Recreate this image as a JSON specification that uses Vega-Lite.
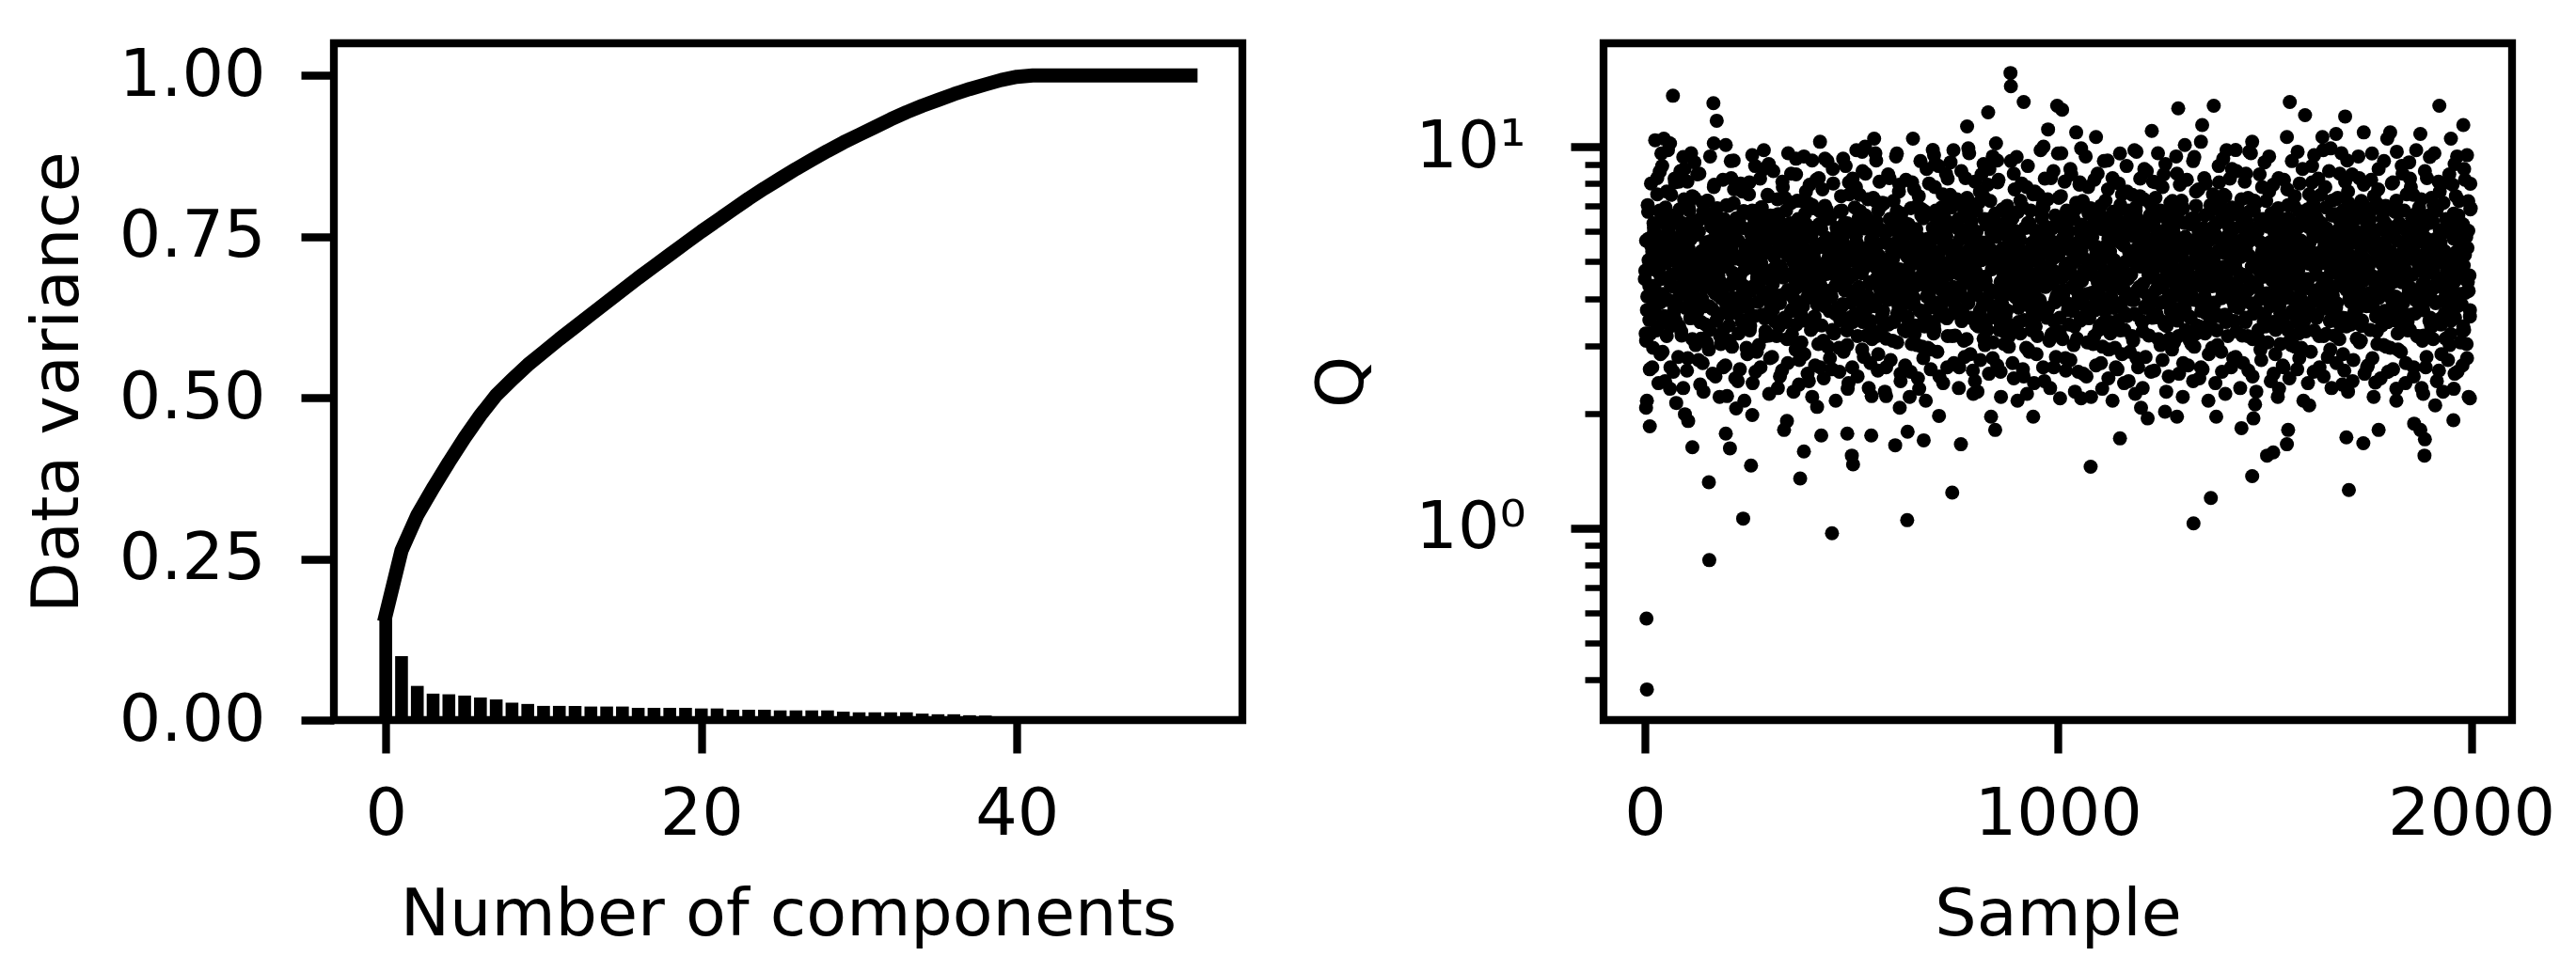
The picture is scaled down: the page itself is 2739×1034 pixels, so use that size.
{
"$schema":"https://vega.github.io/schema/vega-lite/v6.json",
"padding":{"left":21,"top":41,"right":20,"bottom":5},
"background":"white",
"spacing":61,
"config":{
"font":"DejaVu Sans",
"view":{"stroke":"black","strokeWidth":8.3},
"axis":{"domain":false,"grid":false,"tickColor":"black","tickWidth":8.3,"tickSize":35,"labelFont":"DejaVu Sans","labelFontSize":70,"labelColor":"black","titleFont":"DejaVu Sans","titleFontSize":70,"titleFontWeight":"normal","titleColor":"black","labelFlush":false,"labelOverlap":false}
},
"datasets":{
"bars":[{"n":0,"w":0.163},{"n":1,"w":0.099},{"n":2,"w":0.053},{"n":3,"w":0.041},{"n":4,"w":0.040},{"n":5,"w":0.038},{"n":6,"w":0.035},{"n":7,"w":0.032},{"n":8,"w":0.027},{"n":9,"w":0.025},{"n":10,"w":0.022},{"n":11,"w":0.022},{"n":12,"w":0.022},{"n":13,"w":0.021},{"n":14,"w":0.021},{"n":15,"w":0.021},{"n":16,"w":0.019},{"n":17,"w":0.019},{"n":18,"w":0.019},{"n":19,"w":0.019},{"n":20,"w":0.018},{"n":21,"w":0.018},{"n":22,"w":0.016},{"n":23,"w":0.016},{"n":24,"w":0.016},{"n":25,"w":0.015},{"n":26,"w":0.015},{"n":27,"w":0.015},{"n":28,"w":0.015},{"n":29,"w":0.013},{"n":30,"w":0.012},{"n":31,"w":0.012},{"n":32,"w":0.012},{"n":33,"w":0.012},{"n":34,"w":0.010},{"n":35,"w":0.009},{"n":36,"w":0.009},{"n":37,"w":0.0075},{"n":38,"w":0.007},{"n":39,"w":0.0005},{"n":40,"w":0},{"n":41,"w":0},{"n":42,"w":0},{"n":43,"w":0},{"n":44,"w":0},{"n":45,"w":0},{"n":46,"w":0},{"n":47,"w":0},{"n":48,"w":0},{"n":49,"w":0},{"n":50,"w":0},{"n":51,"w":0}],
"cum":[{"n":0,"v":0.163},{"n":1,"v":0.263},{"n":2,"v":0.318},{"n":3,"v":0.360},{"n":4,"v":0.400},{"n":5,"v":0.438},{"n":6,"v":0.473},{"n":7,"v":0.504},{"n":8,"v":0.528},{"n":9,"v":0.551},{"n":10,"v":0.571},{"n":11,"v":0.591},{"n":12,"v":0.610},{"n":13,"v":0.629},{"n":14,"v":0.648},{"n":15,"v":0.667},{"n":16,"v":0.686},{"n":17,"v":0.704},{"n":18,"v":0.722},{"n":19,"v":0.740},{"n":20,"v":0.758},{"n":21,"v":0.775},{"n":22,"v":0.792},{"n":23,"v":0.809},{"n":24,"v":0.825},{"n":25,"v":0.840},{"n":26,"v":0.855},{"n":27,"v":0.869},{"n":28,"v":0.883},{"n":29,"v":0.896},{"n":30,"v":0.908},{"n":31,"v":0.920},{"n":32,"v":0.932},{"n":33,"v":0.943},{"n":34,"v":0.953},{"n":35,"v":0.962},{"n":36,"v":0.971},{"n":37,"v":0.979},{"n":38,"v":0.986},{"n":39,"v":0.993},{"n":40,"v":0.998},{"n":41,"v":1.0},{"n":42,"v":1.0},{"n":43,"v":1.0},{"n":44,"v":1.0},{"n":45,"v":1.0},{"n":46,"v":1.0},{"n":47,"v":1.0},{"n":48,"v":1.0},{"n":49,"v":1.0},{"n":50,"v":1.0},{"n":51,"v":1.0}],
"qs":[
{"s":0,"q":4.50},{"s":2,"q":3.24},{"s":3,"q":5.67},{"s":5,"q":2.16},{"s":6,"q":4.05},{"s":8,"q":6.75},{"s":9,"q":5.04},{"s":11,"q":3.51},{"s":12,"q":2.61},{"s":14,"q":4.77},{"s":15,"q":8.01},{"s":17,"q":3.78},{"s":18,"q":5.31},{"s":20,"q":2.97},{"s":22,"q":6.12},{"s":23,"q":4.32},
{"s":25,"q":4.20},{"s":27,"q":5.90},{"s":28,"q":3.30},{"s":30,"q":7.50},{"s":31,"q":5.30},{"s":33,"q":2.40},{"s":34,"q":4.80},{"s":36,"q":6.80},{"s":37,"q":3.90},{"s":39,"q":5.60},{"s":40,"q":4.50},{"s":42,"q":8.90},{"s":43,"q":2.90},{"s":45,"q":5.00},{"s":47,"q":3.60},{"s":48,"q":6.30},
{"s":50,"q":6.93},{"s":52,"q":4.95},{"s":53,"q":3.19},{"s":55,"q":5.83},{"s":56,"q":9.79},{"s":58,"q":3.96},{"s":59,"q":6.16},{"s":61,"q":5.28},{"s":62,"q":2.64},{"s":64,"q":7.48},{"s":65,"q":4.62},{"s":67,"q":6.49},{"s":68,"q":5.50},{"s":70,"q":3.63},{"s":72,"q":8.25},{"s":73,"q":4.29},
{"s":75,"q":3.49},{"s":77,"q":6.60},{"s":78,"q":4.66},{"s":80,"q":5.43},{"s":81,"q":2.81},{"s":83,"q":5.72},{"s":84,"q":4.07},{"s":86,"q":8.63},{"s":87,"q":4.85},{"s":89,"q":3.20},{"s":90,"q":6.11},{"s":92,"q":4.37},{"s":93,"q":2.33},{"s":95,"q":7.28},{"s":97,"q":5.14},{"s":98,"q":3.78},
{"s":100,"q":6.05},{"s":102,"q":2.59},{"s":103,"q":8.10},{"s":105,"q":4.54},{"s":106,"q":5.40},{"s":108,"q":6.80},{"s":109,"q":3.89},{"s":111,"q":5.72},{"s":112,"q":9.61},{"s":114,"q":4.86},{"s":115,"q":3.13},{"s":117,"q":6.37},{"s":118,"q":4.21},{"s":120,"q":7.34},{"s":122,"q":5.18},{"s":123,"q":3.56},
{"s":125,"q":4.56},{"s":127,"q":8.46},{"s":128,"q":3.71},{"s":130,"q":2.76},{"s":131,"q":5.99},{"s":133,"q":4.75},{"s":134,"q":6.46},{"s":136,"q":3.14},{"s":137,"q":5.32},{"s":139,"q":3.99},{"s":140,"q":7.13},{"s":142,"q":2.28},{"s":143,"q":5.04},{"s":145,"q":4.28},{"s":147,"q":3.42},{"s":148,"q":5.61},
{"s":150,"q":3.07},{"s":152,"q":5.62},{"s":153,"q":7.21},{"s":155,"q":4.77},{"s":156,"q":3.82},{"s":158,"q":9.43},{"s":159,"q":5.30},{"s":161,"q":6.25},{"s":162,"q":4.45},{"s":164,"q":2.54},{"s":165,"q":6.68},{"s":167,"q":5.09},{"s":168,"q":7.95},{"s":170,"q":4.13},{"s":172,"q":5.94},{"s":173,"q":3.50},
{"s":175,"q":6.90},{"s":177,"q":3.59},{"s":178,"q":4.60},{"s":180,"q":5.43},{"s":181,"q":2.21},{"s":183,"q":4.42},{"s":184,"q":3.04},{"s":186,"q":5.80},{"s":187,"q":4.14},{"s":189,"q":8.19},{"s":190,"q":3.31},{"s":192,"q":4.88},{"s":193,"q":6.26},{"s":195,"q":2.67},{"s":197,"q":3.86},{"s":198,"q":5.15},
{"s":201,"q":4.94},{"s":202,"q":7.00},{"s":204,"q":3.40},{"s":205,"q":6.08},{"s":207,"q":4.33},{"s":208,"q":9.17},{"s":210,"q":5.46},{"s":211,"q":2.99},{"s":213,"q":4.02},{"s":214,"q":5.77},{"s":216,"q":7.73},{"s":217,"q":4.64},{"s":219,"q":2.47},{"s":221,"q":6.49},{"s":222,"q":3.71},{"s":224,"q":5.15},
{"s":226,"q":5.67},{"s":227,"q":3.24},{"s":229,"q":4.50},{"s":230,"q":2.61},{"s":232,"q":8.01},{"s":233,"q":4.05},{"s":235,"q":5.04},{"s":236,"q":3.51},{"s":238,"q":6.12},{"s":239,"q":4.32},{"s":241,"q":2.16},{"s":242,"q":4.77},{"s":244,"q":6.75},{"s":246,"q":2.97},{"s":247,"q":5.31},{"s":249,"q":3.78},
{"s":251,"q":3.90},{"s":252,"q":7.50},{"s":254,"q":3.30},{"s":255,"q":5.00},{"s":257,"q":5.90},{"s":258,"q":4.20},{"s":260,"q":6.80},{"s":261,"q":2.40},{"s":263,"q":4.80},{"s":264,"q":5.60},{"s":266,"q":3.60},{"s":267,"q":8.90},{"s":269,"q":5.30},{"s":271,"q":2.90},{"s":272,"q":4.50},{"s":274,"q":6.30},
{"s":276,"q":4.29},{"s":277,"q":5.83},{"s":279,"q":8.25},{"s":280,"q":2.64},{"s":282,"q":4.95},{"s":283,"q":6.93},{"s":285,"q":3.63},{"s":286,"q":5.50},{"s":288,"q":9.79},{"s":289,"q":4.62},{"s":291,"q":6.49},{"s":292,"q":3.19},{"s":294,"q":6.16},{"s":296,"q":5.28},{"s":297,"q":7.48},{"s":299,"q":3.96},
{"s":301,"q":3.20},{"s":302,"q":4.66},{"s":304,"q":6.60},{"s":305,"q":3.78},{"s":307,"q":5.72},{"s":308,"q":2.81},{"s":310,"q":4.37},{"s":311,"q":8.63},{"s":313,"q":5.14},{"s":314,"q":3.49},{"s":316,"q":6.11},{"s":317,"q":4.85},{"s":319,"q":4.07},{"s":321,"q":7.28},{"s":322,"q":2.33},{"s":324,"q":5.43},
{"s":326,"q":6.37},{"s":327,"q":3.89},{"s":329,"q":4.86},{"s":330,"q":5.72},{"s":332,"q":2.59},{"s":333,"q":8.10},{"s":335,"q":4.54},{"s":336,"q":6.05},{"s":338,"q":3.56},{"s":339,"q":7.34},{"s":341,"q":5.40},{"s":342,"q":6.80},{"s":344,"q":3.13},{"s":346,"q":4.21},{"s":347,"q":9.61},{"s":349,"q":5.18},
{"s":351,"q":3.14},{"s":352,"q":5.32},{"s":354,"q":3.71},{"s":355,"q":7.13},{"s":357,"q":4.56},{"s":358,"q":5.99},{"s":360,"q":2.28},{"s":361,"q":3.99},{"s":363,"q":5.61},{"s":364,"q":4.75},{"s":366,"q":8.46},{"s":367,"q":3.42},{"s":369,"q":4.28},{"s":371,"q":6.46},{"s":372,"q":5.04},{"s":374,"q":2.76},
{"s":376,"q":5.94},{"s":377,"q":4.45},{"s":379,"q":3.07},{"s":380,"q":7.21},{"s":382,"q":5.62},{"s":383,"q":3.82},{"s":385,"q":9.43},{"s":386,"q":4.77},{"s":388,"q":6.68},{"s":389,"q":3.50},{"s":391,"q":6.25},{"s":392,"q":5.09},{"s":394,"q":2.54},{"s":396,"q":5.30},{"s":397,"q":4.13},{"s":399,"q":7.95},
{"s":400,"q":4.60},{"s":402,"q":3.31},{"s":403,"q":5.80},{"s":405,"q":2.21},{"s":406,"q":4.14},{"s":408,"q":6.90},{"s":409,"q":5.15},{"s":411,"q":3.59},{"s":412,"q":2.67},{"s":414,"q":4.88},{"s":415,"q":8.19},{"s":417,"q":3.86},{"s":418,"q":5.43},{"s":420,"q":3.04},{"s":422,"q":6.26},{"s":423,"q":4.42},
{"s":425,"q":4.33},{"s":427,"q":6.08},{"s":428,"q":3.40},{"s":430,"q":7.73},{"s":431,"q":5.46},{"s":433,"q":2.47},{"s":434,"q":4.94},{"s":436,"q":7.00},{"s":437,"q":4.02},{"s":439,"q":5.77},{"s":440,"q":4.64},{"s":442,"q":9.17},{"s":443,"q":2.99},{"s":445,"q":5.15},{"s":447,"q":3.71},{"s":448,"q":6.49},
{"s":450,"q":5.67},{"s":452,"q":4.05},{"s":453,"q":2.61},{"s":455,"q":4.77},{"s":456,"q":8.01},{"s":458,"q":3.24},{"s":459,"q":5.04},{"s":461,"q":4.32},{"s":462,"q":2.16},{"s":464,"q":6.12},{"s":465,"q":3.78},{"s":467,"q":5.31},{"s":468,"q":4.50},{"s":470,"q":2.97},{"s":472,"q":6.75},{"s":473,"q":3.51},
{"s":475,"q":3.60},{"s":477,"q":6.80},{"s":478,"q":4.80},{"s":480,"q":5.60},{"s":481,"q":2.90},{"s":483,"q":5.90},{"s":484,"q":4.20},{"s":486,"q":8.90},{"s":487,"q":5.00},{"s":489,"q":3.30},{"s":490,"q":6.30},{"s":492,"q":4.50},{"s":493,"q":2.40},{"s":495,"q":7.50},{"s":497,"q":5.30},{"s":498,"q":3.90},
{"s":500,"q":6.16},{"s":502,"q":2.64},{"s":503,"q":8.25},{"s":505,"q":4.62},{"s":506,"q":5.50},{"s":508,"q":6.93},{"s":509,"q":3.96},{"s":511,"q":5.83},{"s":512,"q":9.79},{"s":514,"q":4.95},{"s":515,"q":3.19},{"s":517,"q":6.49},{"s":518,"q":4.29},{"s":520,"q":7.48},{"s":522,"q":5.28},{"s":523,"q":3.63},
{"s":525,"q":4.66},{"s":527,"q":8.63},{"s":528,"q":3.78},{"s":530,"q":2.81},{"s":531,"q":6.11},{"s":533,"q":4.85},{"s":534,"q":6.60},{"s":536,"q":3.20},{"s":537,"q":5.43},{"s":539,"q":4.07},{"s":540,"q":7.28},{"s":542,"q":2.33},{"s":543,"q":5.14},{"s":545,"q":4.37},{"s":547,"q":3.49},{"s":548,"q":5.72},
{"s":550,"q":3.13},{"s":552,"q":5.72},{"s":553,"q":7.34},{"s":555,"q":4.86},{"s":556,"q":3.89},{"s":558,"q":9.61},{"s":559,"q":5.40},{"s":561,"q":6.37},{"s":562,"q":4.54},{"s":564,"q":2.59},{"s":565,"q":6.80},{"s":567,"q":5.18},{"s":568,"q":8.10},{"s":570,"q":4.21},{"s":572,"q":6.05},{"s":573,"q":3.56},
{"s":575,"q":7.13},{"s":577,"q":3.71},{"s":578,"q":4.75},{"s":580,"q":5.61},{"s":581,"q":2.28},{"s":583,"q":4.56},{"s":584,"q":3.14},{"s":586,"q":5.99},{"s":587,"q":4.28},{"s":589,"q":8.46},{"s":590,"q":3.42},{"s":592,"q":5.04},{"s":593,"q":6.46},{"s":595,"q":2.76},{"s":597,"q":3.99},{"s":598,"q":5.32},
{"s":601,"q":5.09},{"s":602,"q":7.21},{"s":604,"q":3.50},{"s":605,"q":6.25},{"s":607,"q":4.45},{"s":608,"q":9.43},{"s":610,"q":5.62},{"s":611,"q":3.07},{"s":613,"q":4.13},{"s":614,"q":5.94},{"s":616,"q":7.95},{"s":617,"q":4.77},{"s":619,"q":2.54},{"s":621,"q":6.68},{"s":622,"q":3.82},{"s":624,"q":5.30},
{"s":626,"q":5.80},{"s":627,"q":3.31},{"s":629,"q":4.60},{"s":630,"q":2.67},{"s":632,"q":8.19},{"s":633,"q":4.14},{"s":635,"q":5.15},{"s":636,"q":3.59},{"s":638,"q":6.26},{"s":639,"q":4.42},{"s":641,"q":2.21},{"s":642,"q":4.88},{"s":644,"q":6.90},{"s":646,"q":3.04},{"s":647,"q":5.43},{"s":649,"q":3.86},
{"s":651,"q":4.02},{"s":652,"q":7.73},{"s":654,"q":3.40},{"s":655,"q":5.15},{"s":657,"q":6.08},{"s":658,"q":4.33},{"s":660,"q":7.00},{"s":661,"q":2.47},{"s":663,"q":4.94},{"s":664,"q":5.77},{"s":666,"q":3.71},{"s":667,"q":9.17},{"s":669,"q":5.46},{"s":671,"q":2.99},{"s":672,"q":4.64},{"s":674,"q":6.49},
{"s":676,"q":3.51},{"s":677,"q":4.77},{"s":679,"q":6.75},{"s":680,"q":2.16},{"s":682,"q":4.05},{"s":683,"q":5.67},{"s":685,"q":2.97},{"s":686,"q":4.50},{"s":688,"q":8.01},{"s":689,"q":3.78},{"s":691,"q":5.31},{"s":692,"q":2.61},{"s":694,"q":5.04},{"s":696,"q":4.32},{"s":697,"q":6.12},{"s":699,"q":3.24},
{"s":701,"q":3.30},{"s":702,"q":4.80},{"s":704,"q":6.80},{"s":705,"q":3.90},{"s":707,"q":5.90},{"s":708,"q":2.90},{"s":710,"q":4.50},{"s":711,"q":8.90},{"s":713,"q":5.30},{"s":714,"q":3.60},{"s":716,"q":6.30},{"s":717,"q":5.00},{"s":719,"q":4.20},{"s":721,"q":7.50},{"s":722,"q":2.40},{"s":724,"q":5.60},
{"s":726,"q":6.49},{"s":727,"q":3.96},{"s":729,"q":4.95},{"s":730,"q":5.83},{"s":732,"q":2.64},{"s":733,"q":8.25},{"s":735,"q":4.62},{"s":736,"q":6.16},{"s":738,"q":3.63},{"s":739,"q":7.48},{"s":741,"q":5.50},{"s":742,"q":6.93},{"s":744,"q":3.19},{"s":746,"q":4.29},{"s":747,"q":9.79},{"s":749,"q":5.28},
{"s":751,"q":3.20},{"s":752,"q":5.43},{"s":754,"q":3.78},{"s":755,"q":7.28},{"s":757,"q":4.66},{"s":758,"q":6.11},{"s":760,"q":2.33},{"s":761,"q":4.07},{"s":763,"q":5.72},{"s":764,"q":4.85},{"s":766,"q":8.63},{"s":767,"q":3.49},{"s":769,"q":4.37},{"s":771,"q":6.60},{"s":772,"q":5.14},{"s":774,"q":2.81},
{"s":776,"q":6.05},{"s":777,"q":4.54},{"s":779,"q":3.13},{"s":780,"q":7.34},{"s":782,"q":5.72},{"s":783,"q":3.89},{"s":785,"q":9.61},{"s":786,"q":4.86},{"s":788,"q":6.80},{"s":789,"q":3.56},{"s":791,"q":6.37},{"s":792,"q":5.18},{"s":794,"q":2.59},{"s":796,"q":5.40},{"s":797,"q":4.21},{"s":799,"q":8.10},
{"s":800,"q":4.75},{"s":802,"q":3.42},{"s":803,"q":5.99},{"s":805,"q":2.28},{"s":806,"q":4.28},{"s":808,"q":7.13},{"s":809,"q":5.32},{"s":811,"q":3.71},{"s":812,"q":2.76},{"s":814,"q":5.04},{"s":815,"q":8.46},{"s":817,"q":3.99},{"s":818,"q":5.61},{"s":820,"q":3.14},{"s":822,"q":6.46},{"s":823,"q":4.56},
{"s":825,"q":4.45},{"s":827,"q":6.25},{"s":828,"q":3.50},{"s":830,"q":7.95},{"s":831,"q":5.62},{"s":833,"q":2.54},{"s":834,"q":5.09},{"s":836,"q":7.21},{"s":837,"q":4.13},{"s":839,"q":5.94},{"s":840,"q":4.77},{"s":842,"q":9.43},{"s":843,"q":3.07},{"s":845,"q":5.30},{"s":847,"q":3.82},{"s":848,"q":6.68},
{"s":850,"q":5.80},{"s":852,"q":4.14},{"s":853,"q":2.67},{"s":855,"q":4.88},{"s":856,"q":8.19},{"s":858,"q":3.31},{"s":859,"q":5.15},{"s":861,"q":4.42},{"s":862,"q":2.21},{"s":864,"q":6.26},{"s":865,"q":3.86},{"s":867,"q":5.43},{"s":868,"q":4.60},{"s":870,"q":3.04},{"s":872,"q":6.90},{"s":873,"q":3.59},
{"s":875,"q":3.71},{"s":877,"q":7.00},{"s":878,"q":4.94},{"s":880,"q":5.77},{"s":881,"q":2.99},{"s":883,"q":6.08},{"s":884,"q":4.33},{"s":886,"q":9.17},{"s":887,"q":5.15},{"s":889,"q":3.40},{"s":890,"q":6.49},{"s":892,"q":4.64},{"s":893,"q":2.47},{"s":895,"q":7.73},{"s":897,"q":5.46},{"s":898,"q":4.02},
{"s":900,"q":5.04},{"s":902,"q":2.16},{"s":903,"q":6.75},{"s":905,"q":3.78},{"s":906,"q":4.50},{"s":908,"q":5.67},{"s":909,"q":3.24},{"s":911,"q":4.77},{"s":912,"q":8.01},{"s":914,"q":4.05},{"s":915,"q":2.61},{"s":917,"q":5.31},{"s":918,"q":3.51},{"s":920,"q":6.12},{"s":922,"q":4.32},{"s":923,"q":2.97},
{"s":925,"q":4.80},{"s":927,"q":8.90},{"s":928,"q":3.90},{"s":930,"q":2.90},{"s":931,"q":6.30},{"s":933,"q":5.00},{"s":934,"q":6.80},{"s":936,"q":3.30},{"s":937,"q":5.60},{"s":939,"q":4.20},{"s":940,"q":7.50},{"s":942,"q":2.40},{"s":943,"q":5.30},{"s":945,"q":4.50},{"s":947,"q":3.60},{"s":948,"q":5.90},
{"s":950,"q":3.19},{"s":952,"q":5.83},{"s":953,"q":7.48},{"s":955,"q":4.95},{"s":956,"q":3.96},{"s":958,"q":9.79},{"s":959,"q":5.50},{"s":961,"q":6.49},{"s":962,"q":4.62},{"s":964,"q":2.64},{"s":965,"q":6.93},{"s":967,"q":5.28},{"s":968,"q":8.25},{"s":970,"q":4.29},{"s":972,"q":6.16},{"s":973,"q":3.63},
{"s":975,"q":7.28},{"s":977,"q":3.78},{"s":978,"q":4.85},{"s":980,"q":5.72},{"s":981,"q":2.33},{"s":983,"q":4.66},{"s":984,"q":3.20},{"s":986,"q":6.11},{"s":987,"q":4.37},{"s":989,"q":8.63},{"s":990,"q":3.49},{"s":992,"q":5.14},{"s":993,"q":6.60},{"s":995,"q":2.81},{"s":997,"q":4.07},{"s":998,"q":5.43},
{"s":1001,"q":5.18},{"s":1002,"q":7.34},{"s":1004,"q":3.56},{"s":1005,"q":6.37},{"s":1007,"q":4.54},{"s":1008,"q":9.61},{"s":1010,"q":5.72},{"s":1011,"q":3.13},{"s":1013,"q":4.21},{"s":1014,"q":6.05},{"s":1016,"q":8.10},{"s":1017,"q":4.86},{"s":1019,"q":2.59},{"s":1021,"q":6.80},{"s":1022,"q":3.89},{"s":1024,"q":5.40},
{"s":1026,"q":5.99},{"s":1027,"q":3.42},{"s":1029,"q":4.75},{"s":1030,"q":2.76},{"s":1032,"q":8.46},{"s":1033,"q":4.28},{"s":1035,"q":5.32},{"s":1036,"q":3.71},{"s":1038,"q":6.46},{"s":1039,"q":4.56},{"s":1041,"q":2.28},{"s":1042,"q":5.04},{"s":1044,"q":7.13},{"s":1046,"q":3.14},{"s":1047,"q":5.61},{"s":1049,"q":3.99},
{"s":1051,"q":4.13},{"s":1052,"q":7.95},{"s":1054,"q":3.50},{"s":1055,"q":5.30},{"s":1057,"q":6.25},{"s":1058,"q":4.45},{"s":1060,"q":7.21},{"s":1061,"q":2.54},{"s":1063,"q":5.09},{"s":1064,"q":5.94},{"s":1066,"q":3.82},{"s":1067,"q":9.43},{"s":1069,"q":5.62},{"s":1071,"q":3.07},{"s":1072,"q":4.77},{"s":1074,"q":6.68},
{"s":1076,"q":3.59},{"s":1077,"q":4.88},{"s":1079,"q":6.90},{"s":1080,"q":2.21},{"s":1082,"q":4.14},{"s":1083,"q":5.80},{"s":1085,"q":3.04},{"s":1086,"q":4.60},{"s":1088,"q":8.19},{"s":1089,"q":3.86},{"s":1091,"q":5.43},{"s":1092,"q":2.67},{"s":1094,"q":5.15},{"s":1096,"q":4.42},{"s":1097,"q":6.26},{"s":1099,"q":3.31},
{"s":1101,"q":3.40},{"s":1102,"q":4.94},{"s":1104,"q":7.00},{"s":1105,"q":4.02},{"s":1107,"q":6.08},{"s":1108,"q":2.99},{"s":1110,"q":4.64},{"s":1111,"q":9.17},{"s":1113,"q":5.46},{"s":1114,"q":3.71},{"s":1116,"q":6.49},{"s":1117,"q":5.15},{"s":1119,"q":4.33},{"s":1121,"q":7.73},{"s":1122,"q":2.47},{"s":1124,"q":5.77},
{"s":1126,"q":5.31},{"s":1127,"q":3.24},{"s":1129,"q":4.05},{"s":1130,"q":4.77},{"s":1132,"q":2.16},{"s":1133,"q":6.75},{"s":1135,"q":3.78},{"s":1136,"q":5.04},{"s":1138,"q":2.97},{"s":1139,"q":6.12},{"s":1141,"q":4.50},{"s":1142,"q":5.67},{"s":1144,"q":2.61},{"s":1146,"q":3.51},{"s":1147,"q":8.01},{"s":1149,"q":4.32},
{"s":1151,"q":3.30},{"s":1152,"q":5.60},{"s":1154,"q":3.90},{"s":1155,"q":7.50},{"s":1157,"q":4.80},{"s":1158,"q":6.30},{"s":1160,"q":2.40},{"s":1161,"q":4.20},{"s":1163,"q":5.90},{"s":1164,"q":5.00},{"s":1166,"q":8.90},{"s":1167,"q":3.60},{"s":1169,"q":4.50},{"s":1171,"q":6.80},{"s":1172,"q":5.30},{"s":1174,"q":2.90},
{"s":1176,"q":6.16},{"s":1177,"q":4.62},{"s":1179,"q":3.19},{"s":1180,"q":7.48},{"s":1182,"q":5.83},{"s":1183,"q":3.96},{"s":1185,"q":9.79},{"s":1186,"q":4.95},{"s":1188,"q":6.93},{"s":1189,"q":3.63},{"s":1191,"q":6.49},{"s":1192,"q":5.28},{"s":1194,"q":2.64},{"s":1196,"q":5.50},{"s":1197,"q":4.29},{"s":1199,"q":8.25},
{"s":1200,"q":4.85},{"s":1202,"q":3.49},{"s":1203,"q":6.11},{"s":1205,"q":2.33},{"s":1206,"q":4.37},{"s":1208,"q":7.28},{"s":1209,"q":5.43},{"s":1211,"q":3.78},{"s":1212,"q":2.81},{"s":1214,"q":5.14},{"s":1215,"q":8.63},{"s":1217,"q":4.07},{"s":1218,"q":5.72},{"s":1220,"q":3.20},{"s":1222,"q":6.60},{"s":1223,"q":4.66},
{"s":1225,"q":4.54},{"s":1227,"q":6.37},{"s":1228,"q":3.56},{"s":1230,"q":8.10},{"s":1231,"q":5.72},{"s":1233,"q":2.59},{"s":1234,"q":5.18},{"s":1236,"q":7.34},{"s":1237,"q":4.21},{"s":1239,"q":6.05},{"s":1240,"q":4.86},{"s":1242,"q":9.61},{"s":1243,"q":3.13},{"s":1245,"q":5.40},{"s":1247,"q":3.89},{"s":1248,"q":6.80},
{"s":1250,"q":5.99},{"s":1252,"q":4.28},{"s":1253,"q":2.76},{"s":1255,"q":5.04},{"s":1256,"q":8.46},{"s":1258,"q":3.42},{"s":1259,"q":5.32},{"s":1261,"q":4.56},{"s":1262,"q":2.28},{"s":1264,"q":6.46},{"s":1265,"q":3.99},{"s":1267,"q":5.61},{"s":1268,"q":4.75},{"s":1270,"q":3.14},{"s":1272,"q":7.13},{"s":1273,"q":3.71},
{"s":1275,"q":3.82},{"s":1277,"q":7.21},{"s":1278,"q":5.09},{"s":1280,"q":5.94},{"s":1281,"q":3.07},{"s":1283,"q":6.25},{"s":1284,"q":4.45},{"s":1286,"q":9.43},{"s":1287,"q":5.30},{"s":1289,"q":3.50},{"s":1290,"q":6.68},{"s":1292,"q":4.77},{"s":1293,"q":2.54},{"s":1295,"q":7.95},{"s":1297,"q":5.62},{"s":1298,"q":4.13},
{"s":1300,"q":5.15},{"s":1302,"q":2.21},{"s":1303,"q":6.90},{"s":1305,"q":3.86},{"s":1306,"q":4.60},{"s":1308,"q":5.80},{"s":1309,"q":3.31},{"s":1311,"q":4.88},{"s":1312,"q":8.19},{"s":1314,"q":4.14},{"s":1315,"q":2.67},{"s":1317,"q":5.43},{"s":1318,"q":3.59},{"s":1320,"q":6.26},{"s":1322,"q":4.42},{"s":1323,"q":3.04},
{"s":1325,"q":4.94},{"s":1327,"q":9.17},{"s":1328,"q":4.02},{"s":1330,"q":2.99},{"s":1331,"q":6.49},{"s":1333,"q":5.15},{"s":1334,"q":7.00},{"s":1336,"q":3.40},{"s":1337,"q":5.77},{"s":1339,"q":4.33},{"s":1340,"q":7.73},{"s":1342,"q":2.47},{"s":1343,"q":5.46},{"s":1345,"q":4.64},{"s":1347,"q":3.71},{"s":1348,"q":6.08},
{"s":1350,"q":2.61},{"s":1352,"q":4.77},{"s":1353,"q":6.12},{"s":1355,"q":4.05},{"s":1356,"q":3.24},{"s":1358,"q":8.01},{"s":1359,"q":4.50},{"s":1361,"q":5.31},{"s":1362,"q":3.78},{"s":1364,"q":2.16},{"s":1365,"q":5.67},{"s":1367,"q":4.32},{"s":1368,"q":6.75},{"s":1370,"q":3.51},{"s":1372,"q":5.04},{"s":1373,"q":2.97},
{"s":1375,"q":7.50},{"s":1377,"q":3.90},{"s":1378,"q":5.00},{"s":1380,"q":5.90},{"s":1381,"q":2.40},{"s":1383,"q":4.80},{"s":1384,"q":3.30},{"s":1386,"q":6.30},{"s":1387,"q":4.50},{"s":1389,"q":8.90},{"s":1390,"q":3.60},{"s":1392,"q":5.30},{"s":1393,"q":6.80},{"s":1395,"q":2.90},{"s":1397,"q":4.20},{"s":1398,"q":5.60},
{"s":1401,"q":5.28},{"s":1402,"q":7.48},{"s":1404,"q":3.63},{"s":1405,"q":6.49},{"s":1407,"q":4.62},{"s":1408,"q":9.79},{"s":1410,"q":5.83},{"s":1411,"q":3.19},{"s":1413,"q":4.29},{"s":1414,"q":6.16},{"s":1416,"q":8.25},{"s":1417,"q":4.95},{"s":1419,"q":2.64},{"s":1421,"q":6.93},{"s":1422,"q":3.96},{"s":1424,"q":5.50},
{"s":1426,"q":6.11},{"s":1427,"q":3.49},{"s":1429,"q":4.85},{"s":1430,"q":2.81},{"s":1432,"q":8.63},{"s":1433,"q":4.37},{"s":1435,"q":5.43},{"s":1436,"q":3.78},{"s":1438,"q":6.60},{"s":1439,"q":4.66},{"s":1441,"q":2.33},{"s":1442,"q":5.14},{"s":1444,"q":7.28},{"s":1446,"q":3.20},{"s":1447,"q":5.72},{"s":1449,"q":4.07},
{"s":1451,"q":4.21},{"s":1452,"q":8.10},{"s":1454,"q":3.56},{"s":1455,"q":5.40},{"s":1457,"q":6.37},{"s":1458,"q":4.54},{"s":1460,"q":7.34},{"s":1461,"q":2.59},{"s":1463,"q":5.18},{"s":1464,"q":6.05},{"s":1466,"q":3.89},{"s":1467,"q":9.61},{"s":1469,"q":5.72},{"s":1471,"q":3.13},{"s":1472,"q":4.86},{"s":1474,"q":6.80},
{"s":1476,"q":3.71},{"s":1477,"q":5.04},{"s":1479,"q":7.13},{"s":1480,"q":2.28},{"s":1482,"q":4.28},{"s":1483,"q":5.99},{"s":1485,"q":3.14},{"s":1486,"q":4.75},{"s":1488,"q":8.46},{"s":1489,"q":3.99},{"s":1491,"q":5.61},{"s":1492,"q":2.76},{"s":1494,"q":5.32},{"s":1496,"q":4.56},{"s":1497,"q":6.46},{"s":1499,"q":3.42},
{"s":1501,"q":3.50},{"s":1502,"q":5.09},{"s":1504,"q":7.21},{"s":1505,"q":4.13},{"s":1507,"q":6.25},{"s":1508,"q":3.07},{"s":1510,"q":4.77},{"s":1511,"q":9.43},{"s":1513,"q":5.62},{"s":1514,"q":3.82},{"s":1516,"q":6.68},{"s":1517,"q":5.30},{"s":1519,"q":4.45},{"s":1521,"q":7.95},{"s":1522,"q":2.54},{"s":1524,"q":5.94},
{"s":1526,"q":5.43},{"s":1527,"q":3.31},{"s":1529,"q":4.14},{"s":1530,"q":4.88},{"s":1532,"q":2.21},{"s":1533,"q":6.90},{"s":1535,"q":3.86},{"s":1536,"q":5.15},{"s":1538,"q":3.04},{"s":1539,"q":6.26},{"s":1541,"q":4.60},{"s":1542,"q":5.80},{"s":1544,"q":2.67},{"s":1546,"q":3.59},{"s":1547,"q":8.19},{"s":1549,"q":4.42},
{"s":1551,"q":3.40},{"s":1552,"q":5.77},{"s":1554,"q":4.02},{"s":1555,"q":7.73},{"s":1557,"q":4.94},{"s":1558,"q":6.49},{"s":1560,"q":2.47},{"s":1561,"q":4.33},{"s":1563,"q":6.08},{"s":1564,"q":5.15},{"s":1566,"q":9.17},{"s":1567,"q":3.71},{"s":1569,"q":4.64},{"s":1571,"q":7.00},{"s":1572,"q":5.46},{"s":1574,"q":2.99},
{"s":1576,"q":5.04},{"s":1577,"q":3.78},{"s":1579,"q":2.61},{"s":1580,"q":6.12},{"s":1582,"q":4.77},{"s":1583,"q":3.24},{"s":1585,"q":8.01},{"s":1586,"q":4.05},{"s":1588,"q":5.67},{"s":1589,"q":2.97},{"s":1591,"q":5.31},{"s":1592,"q":4.32},{"s":1594,"q":2.16},{"s":1596,"q":4.50},{"s":1597,"q":3.51},{"s":1599,"q":6.75},
{"s":1600,"q":5.00},{"s":1602,"q":3.60},{"s":1603,"q":6.30},{"s":1605,"q":2.40},{"s":1606,"q":4.50},{"s":1608,"q":7.50},{"s":1609,"q":5.60},{"s":1611,"q":3.90},{"s":1612,"q":2.90},{"s":1614,"q":5.30},{"s":1615,"q":8.90},{"s":1617,"q":4.20},{"s":1618,"q":5.90},{"s":1620,"q":3.30},{"s":1622,"q":6.80},{"s":1623,"q":4.80},
{"s":1625,"q":4.62},{"s":1627,"q":6.49},{"s":1628,"q":3.63},{"s":1630,"q":8.25},{"s":1631,"q":5.83},{"s":1633,"q":2.64},{"s":1634,"q":5.28},{"s":1636,"q":7.48},{"s":1637,"q":4.29},{"s":1639,"q":6.16},{"s":1640,"q":4.95},{"s":1642,"q":9.79},{"s":1643,"q":3.19},{"s":1645,"q":5.50},{"s":1647,"q":3.96},{"s":1648,"q":6.93},
{"s":1650,"q":6.11},{"s":1652,"q":4.37},{"s":1653,"q":2.81},{"s":1655,"q":5.14},{"s":1656,"q":8.63},{"s":1658,"q":3.49},{"s":1659,"q":5.43},{"s":1661,"q":4.66},{"s":1662,"q":2.33},{"s":1664,"q":6.60},{"s":1665,"q":4.07},{"s":1667,"q":5.72},{"s":1668,"q":4.85},{"s":1670,"q":3.20},{"s":1672,"q":7.28},{"s":1673,"q":3.78},
{"s":1675,"q":3.89},{"s":1677,"q":7.34},{"s":1678,"q":5.18},{"s":1680,"q":6.05},{"s":1681,"q":3.13},{"s":1683,"q":6.37},{"s":1684,"q":4.54},{"s":1686,"q":9.61},{"s":1687,"q":5.40},{"s":1689,"q":3.56},{"s":1690,"q":6.80},{"s":1692,"q":4.86},{"s":1693,"q":2.59},{"s":1695,"q":8.10},{"s":1697,"q":5.72},{"s":1698,"q":4.21},
{"s":1700,"q":5.32},{"s":1702,"q":2.28},{"s":1703,"q":7.13},{"s":1705,"q":3.99},{"s":1706,"q":4.75},{"s":1708,"q":5.99},{"s":1709,"q":3.42},{"s":1711,"q":5.04},{"s":1712,"q":8.46},{"s":1714,"q":4.28},{"s":1715,"q":2.76},{"s":1717,"q":5.61},{"s":1718,"q":3.71},{"s":1720,"q":6.46},{"s":1722,"q":4.56},{"s":1723,"q":3.14},
{"s":1725,"q":5.09},{"s":1727,"q":9.43},{"s":1728,"q":4.13},{"s":1730,"q":3.07},{"s":1731,"q":6.68},{"s":1733,"q":5.30},{"s":1734,"q":7.21},{"s":1736,"q":3.50},{"s":1737,"q":5.94},{"s":1739,"q":4.45},{"s":1740,"q":7.95},{"s":1742,"q":2.54},{"s":1743,"q":5.62},{"s":1745,"q":4.77},{"s":1747,"q":3.82},{"s":1748,"q":6.25},
{"s":1750,"q":2.67},{"s":1752,"q":4.88},{"s":1753,"q":6.26},{"s":1755,"q":4.14},{"s":1756,"q":3.31},{"s":1758,"q":8.19},{"s":1759,"q":4.60},{"s":1761,"q":5.43},{"s":1762,"q":3.86},{"s":1764,"q":2.21},{"s":1765,"q":5.80},{"s":1767,"q":4.42},{"s":1768,"q":6.90},{"s":1770,"q":3.59},{"s":1772,"q":5.15},{"s":1773,"q":3.04},
{"s":1775,"q":7.73},{"s":1777,"q":4.02},{"s":1778,"q":5.15},{"s":1780,"q":6.08},{"s":1781,"q":2.47},{"s":1783,"q":4.94},{"s":1784,"q":3.40},{"s":1786,"q":6.49},{"s":1787,"q":4.64},{"s":1789,"q":9.17},{"s":1790,"q":3.71},{"s":1792,"q":5.46},{"s":1793,"q":7.00},{"s":1795,"q":2.99},{"s":1797,"q":4.33},{"s":1798,"q":5.77},
{"s":1801,"q":4.32},{"s":1802,"q":6.12},{"s":1804,"q":2.97},{"s":1805,"q":5.31},{"s":1807,"q":3.78},{"s":1808,"q":8.01},{"s":1810,"q":4.77},{"s":1811,"q":2.61},{"s":1813,"q":3.51},{"s":1814,"q":5.04},{"s":1816,"q":6.75},{"s":1817,"q":4.05},{"s":1819,"q":2.16},{"s":1821,"q":5.67},{"s":1822,"q":3.24},{"s":1824,"q":4.50},
{"s":1826,"q":6.30},{"s":1827,"q":3.60},{"s":1829,"q":5.00},{"s":1830,"q":2.90},{"s":1832,"q":8.90},{"s":1833,"q":4.50},{"s":1835,"q":5.60},{"s":1836,"q":3.90},{"s":1838,"q":6.80},{"s":1839,"q":4.80},{"s":1841,"q":2.40},{"s":1842,"q":5.30},{"s":1844,"q":7.50},{"s":1846,"q":3.30},{"s":1847,"q":5.90},{"s":1849,"q":4.20},
{"s":1851,"q":4.29},{"s":1852,"q":8.25},{"s":1854,"q":3.63},{"s":1855,"q":5.50},{"s":1857,"q":6.49},{"s":1858,"q":4.62},{"s":1860,"q":7.48},{"s":1861,"q":2.64},{"s":1863,"q":5.28},{"s":1864,"q":6.16},{"s":1866,"q":3.96},{"s":1867,"q":9.79},{"s":1869,"q":5.83},{"s":1871,"q":3.19},{"s":1872,"q":4.95},{"s":1874,"q":6.93},
{"s":1876,"q":3.78},{"s":1877,"q":5.14},{"s":1879,"q":7.28},{"s":1880,"q":2.33},{"s":1882,"q":4.37},{"s":1883,"q":6.11},{"s":1885,"q":3.20},{"s":1886,"q":4.85},{"s":1888,"q":8.63},{"s":1889,"q":4.07},{"s":1891,"q":5.72},{"s":1892,"q":2.81},{"s":1894,"q":5.43},{"s":1896,"q":4.66},{"s":1897,"q":6.60},{"s":1899,"q":3.49},
{"s":1901,"q":3.56},{"s":1902,"q":5.18},{"s":1904,"q":7.34},{"s":1905,"q":4.21},{"s":1907,"q":6.37},{"s":1908,"q":3.13},{"s":1910,"q":4.86},{"s":1911,"q":9.61},{"s":1913,"q":5.72},{"s":1914,"q":3.89},{"s":1916,"q":6.80},{"s":1917,"q":5.40},{"s":1919,"q":4.54},{"s":1921,"q":8.10},{"s":1922,"q":2.59},{"s":1924,"q":6.05},
{"s":1926,"q":5.61},{"s":1927,"q":3.42},{"s":1929,"q":4.28},{"s":1930,"q":5.04},{"s":1932,"q":2.28},{"s":1933,"q":7.13},{"s":1935,"q":3.99},{"s":1936,"q":5.32},{"s":1938,"q":3.14},{"s":1939,"q":6.46},{"s":1941,"q":4.75},{"s":1942,"q":5.99},{"s":1944,"q":2.76},{"s":1946,"q":3.71},{"s":1947,"q":8.46},{"s":1949,"q":4.56},
{"s":1951,"q":3.50},{"s":1952,"q":5.94},{"s":1954,"q":4.13},{"s":1955,"q":7.95},{"s":1957,"q":5.09},{"s":1958,"q":6.68},{"s":1960,"q":2.54},{"s":1961,"q":4.45},{"s":1963,"q":6.25},{"s":1964,"q":5.30},{"s":1966,"q":9.43},{"s":1967,"q":3.82},{"s":1969,"q":4.77},{"s":1971,"q":7.21},{"s":1972,"q":5.62},{"s":1974,"q":3.07},
{"s":1976,"q":5.15},{"s":1977,"q":3.86},{"s":1979,"q":2.67},{"s":1980,"q":6.26},{"s":1982,"q":4.88},{"s":1983,"q":3.31},{"s":1985,"q":8.19},{"s":1986,"q":4.14},{"s":1988,"q":5.80},{"s":1989,"q":3.04},{"s":1991,"q":5.43},{"s":1992,"q":4.42},{"s":1994,"q":2.21},{"s":1996,"q":4.60},{"s":1997,"q":3.59},{"s":1999,"q":6.90},
{"s":1,"q":4.73},{"s":5,"q":3.73},{"s":9,"q":5.74},{"s":13,"q":3.23},{"s":17,"q":4.30},{"s":21,"q":6.30},{"s":24,"q":5.21},{"s":28,"q":3.91},{"s":32,"q":3.38},{"s":36,"q":4.97},{"s":40,"q":6.61},{"s":44,"q":4.11},{"s":48,"q":5.47},{"s":52,"q":3.56},{"s":56,"q":6.02},{"s":60,"q":4.51},
{"s":63,"q":4.31},{"s":67,"q":5.74},{"s":71,"q":3.73},{"s":75,"q":6.62},{"s":79,"q":5.21},{"s":83,"q":3.39},{"s":86,"q":4.74},{"s":90,"q":6.31},{"s":94,"q":4.11},{"s":98,"q":5.46},{"s":102,"q":4.51},{"s":106,"q":6.94},{"s":110,"q":3.55},{"s":114,"q":4.97},{"s":118,"q":3.92},{"s":122,"q":6.02},
{"s":126,"q":5.88},{"s":130,"q":4.41},{"s":134,"q":3.47},{"s":138,"q":5.09},{"s":142,"q":6.78},{"s":146,"q":3.82},{"s":149,"q":5.34},{"s":153,"q":4.62},{"s":157,"q":3.31},{"s":161,"q":6.17},{"s":165,"q":4.21},{"s":169,"q":5.60},{"s":173,"q":4.85},{"s":177,"q":3.65},{"s":181,"q":6.46},{"s":185,"q":4.01},
{"s":188,"q":4.01},{"s":192,"q":6.46},{"s":196,"q":4.85},{"s":200,"q":5.59},{"s":204,"q":3.64},{"s":208,"q":5.87},{"s":211,"q":4.41},{"s":215,"q":7.11},{"s":219,"q":5.09},{"s":223,"q":3.82},{"s":227,"q":6.16},{"s":231,"q":4.62},{"s":235,"q":3.47},{"s":239,"q":6.78},{"s":243,"q":5.34},{"s":247,"q":4.21},
{"s":251,"q":5.46},{"s":255,"q":3.39},{"s":259,"q":6.62},{"s":263,"q":4.31},{"s":267,"q":4.97},{"s":271,"q":6.02},{"s":274,"q":3.92},{"s":278,"q":5.21},{"s":282,"q":6.94},{"s":286,"q":4.51},{"s":290,"q":3.55},{"s":294,"q":5.74},{"s":298,"q":4.11},{"s":302,"q":6.31},{"s":306,"q":4.74},{"s":310,"q":3.73},
{"s":313,"q":4.51},{"s":317,"q":6.61},{"s":321,"q":3.91},{"s":325,"q":3.38},{"s":329,"q":5.74},{"s":333,"q":4.73},{"s":336,"q":6.02},{"s":340,"q":3.56},{"s":344,"q":5.21},{"s":348,"q":4.11},{"s":352,"q":6.30},{"s":356,"q":3.23},{"s":360,"q":4.97},{"s":364,"q":4.30},{"s":368,"q":3.73},{"s":372,"q":5.47},
{"s":376,"q":3.64},{"s":380,"q":5.34},{"s":384,"q":6.46},{"s":388,"q":4.62},{"s":392,"q":4.01},{"s":396,"q":7.11},{"s":399,"q":5.09},{"s":403,"q":5.87},{"s":407,"q":4.41},{"s":411,"q":3.47},{"s":415,"q":6.16},{"s":419,"q":4.85},{"s":423,"q":6.78},{"s":427,"q":4.21},{"s":431,"q":5.59},{"s":435,"q":3.82},
{"s":438,"q":6.46},{"s":442,"q":4.01},{"s":446,"q":4.85},{"s":450,"q":5.60},{"s":454,"q":3.31},{"s":458,"q":4.62},{"s":461,"q":3.65},{"s":465,"q":5.88},{"s":469,"q":4.41},{"s":473,"q":6.78},{"s":477,"q":3.82},{"s":481,"q":5.09},{"s":485,"q":6.17},{"s":489,"q":3.47},{"s":493,"q":4.21},{"s":497,"q":5.34},
{"s":501,"q":4.62},{"s":505,"q":6.17},{"s":509,"q":3.65},{"s":513,"q":5.60},{"s":517,"q":4.21},{"s":521,"q":6.78},{"s":524,"q":5.09},{"s":528,"q":3.47},{"s":532,"q":4.01},{"s":536,"q":5.34},{"s":540,"q":6.46},{"s":544,"q":4.41},{"s":548,"q":3.31},{"s":552,"q":5.88},{"s":556,"q":3.82},{"s":560,"q":4.85},
{"s":563,"q":6.16},{"s":567,"q":4.01},{"s":571,"q":5.09},{"s":575,"q":3.64},{"s":579,"q":7.11},{"s":583,"q":4.62},{"s":586,"q":5.59},{"s":590,"q":4.21},{"s":594,"q":6.46},{"s":598,"q":4.85},{"s":602,"q":3.47},{"s":606,"q":5.34},{"s":610,"q":6.78},{"s":614,"q":3.82},{"s":618,"q":5.87},{"s":622,"q":4.41},
{"s":626,"q":3.91},{"s":630,"q":6.30},{"s":634,"q":3.56},{"s":638,"q":4.73},{"s":642,"q":5.47},{"s":646,"q":4.11},{"s":649,"q":6.02},{"s":653,"q":3.23},{"s":657,"q":4.51},{"s":661,"q":5.21},{"s":665,"q":3.73},{"s":669,"q":6.61},{"s":673,"q":4.97},{"s":677,"q":3.38},{"s":681,"q":4.30},{"s":685,"q":5.74},
{"s":688,"q":4.11},{"s":692,"q":5.21},{"s":696,"q":6.62},{"s":700,"q":3.39},{"s":704,"q":4.51},{"s":708,"q":6.02},{"s":711,"q":3.73},{"s":715,"q":4.97},{"s":719,"q":6.94},{"s":723,"q":4.31},{"s":727,"q":5.74},{"s":731,"q":3.55},{"s":735,"q":5.46},{"s":739,"q":4.74},{"s":743,"q":6.31},{"s":747,"q":3.92},
{"s":751,"q":3.82},{"s":755,"q":4.85},{"s":759,"q":6.46},{"s":763,"q":4.21},{"s":767,"q":5.87},{"s":771,"q":3.64},{"s":774,"q":4.62},{"s":778,"q":7.11},{"s":782,"q":5.34},{"s":786,"q":4.01},{"s":790,"q":6.16},{"s":794,"q":5.09},{"s":798,"q":4.41},{"s":802,"q":6.78},{"s":806,"q":3.47},{"s":810,"q":5.59},
{"s":813,"q":5.60},{"s":817,"q":3.82},{"s":821,"q":4.41},{"s":825,"q":5.09},{"s":829,"q":3.31},{"s":833,"q":6.46},{"s":836,"q":4.21},{"s":840,"q":5.34},{"s":844,"q":3.65},{"s":848,"q":6.17},{"s":852,"q":4.85},{"s":856,"q":5.88},{"s":860,"q":3.47},{"s":864,"q":4.01},{"s":868,"q":6.78},{"s":872,"q":4.62},
{"s":876,"q":3.73},{"s":880,"q":5.46},{"s":884,"q":4.11},{"s":888,"q":6.62},{"s":892,"q":4.74},{"s":896,"q":6.02},{"s":899,"q":3.39},{"s":903,"q":4.31},{"s":907,"q":5.74},{"s":911,"q":4.97},{"s":915,"q":6.94},{"s":919,"q":3.92},{"s":923,"q":4.51},{"s":927,"q":6.31},{"s":931,"q":5.21},{"s":935,"q":3.55},
{"s":938,"q":5.21},{"s":942,"q":4.11},{"s":946,"q":3.38},{"s":950,"q":6.02},{"s":954,"q":4.97},{"s":958,"q":3.73},{"s":961,"q":6.61},{"s":965,"q":4.30},{"s":969,"q":5.74},{"s":973,"q":3.56},{"s":977,"q":5.47},{"s":981,"q":4.51},{"s":985,"q":3.23},{"s":989,"q":4.73},{"s":993,"q":3.91},{"s":997,"q":6.30},
{"s":1001,"q":5.21},{"s":1005,"q":3.23},{"s":1009,"q":6.30},{"s":1013,"q":4.11},{"s":1017,"q":4.73},{"s":1021,"q":5.74},{"s":1024,"q":3.73},{"s":1028,"q":4.97},{"s":1032,"q":6.61},{"s":1036,"q":4.30},{"s":1040,"q":3.38},{"s":1044,"q":5.47},{"s":1048,"q":3.91},{"s":1052,"q":6.02},{"s":1056,"q":4.51},{"s":1060,"q":3.56},
{"s":1063,"q":4.74},{"s":1067,"q":6.94},{"s":1071,"q":4.11},{"s":1075,"q":3.55},{"s":1079,"q":6.02},{"s":1083,"q":4.97},{"s":1086,"q":6.31},{"s":1090,"q":3.73},{"s":1094,"q":5.46},{"s":1098,"q":4.31},{"s":1102,"q":6.62},{"s":1106,"q":3.39},{"s":1110,"q":5.21},{"s":1114,"q":4.51},{"s":1118,"q":3.92},{"s":1122,"q":5.74},
{"s":1126,"q":3.47},{"s":1130,"q":5.09},{"s":1134,"q":6.17},{"s":1138,"q":4.41},{"s":1142,"q":3.82},{"s":1146,"q":6.78},{"s":1149,"q":4.85},{"s":1153,"q":5.60},{"s":1157,"q":4.21},{"s":1161,"q":3.31},{"s":1165,"q":5.88},{"s":1169,"q":4.62},{"s":1173,"q":6.46},{"s":1177,"q":4.01},{"s":1181,"q":5.34},{"s":1185,"q":3.65},
{"s":1188,"q":6.78},{"s":1192,"q":4.21},{"s":1196,"q":5.09},{"s":1200,"q":5.87},{"s":1204,"q":3.47},{"s":1208,"q":4.85},{"s":1211,"q":3.82},{"s":1215,"q":6.16},{"s":1219,"q":4.62},{"s":1223,"q":7.11},{"s":1227,"q":4.01},{"s":1231,"q":5.34},{"s":1235,"q":6.46},{"s":1239,"q":3.64},{"s":1243,"q":4.41},{"s":1247,"q":5.59},
{"s":1251,"q":4.97},{"s":1255,"q":3.92},{"s":1259,"q":6.02},{"s":1263,"q":3.39},{"s":1267,"q":4.51},{"s":1271,"q":6.62},{"s":1274,"q":5.46},{"s":1278,"q":4.11},{"s":1282,"q":3.55},{"s":1286,"q":5.21},{"s":1290,"q":6.94},{"s":1294,"q":4.31},{"s":1298,"q":5.74},{"s":1302,"q":3.73},{"s":1306,"q":6.31},{"s":1310,"q":4.74},
{"s":1313,"q":4.11},{"s":1317,"q":5.47},{"s":1321,"q":3.56},{"s":1325,"q":6.30},{"s":1329,"q":4.97},{"s":1333,"q":3.23},{"s":1336,"q":4.51},{"s":1340,"q":6.02},{"s":1344,"q":3.91},{"s":1348,"q":5.21},{"s":1352,"q":4.30},{"s":1356,"q":6.61},{"s":1360,"q":3.38},{"s":1364,"q":4.73},{"s":1368,"q":3.73},{"s":1372,"q":5.74},
{"s":1376,"q":6.16},{"s":1380,"q":4.62},{"s":1384,"q":3.64},{"s":1388,"q":5.34},{"s":1392,"q":7.11},{"s":1396,"q":4.01},{"s":1399,"q":5.59},{"s":1403,"q":4.85},{"s":1407,"q":3.47},{"s":1411,"q":6.46},{"s":1415,"q":4.41},{"s":1419,"q":5.87},{"s":1423,"q":5.09},{"s":1427,"q":3.82},{"s":1431,"q":6.78},{"s":1435,"q":4.21},
{"s":1438,"q":3.82},{"s":1442,"q":6.17},{"s":1446,"q":4.62},{"s":1450,"q":5.34},{"s":1454,"q":3.47},{"s":1458,"q":5.60},{"s":1461,"q":4.21},{"s":1465,"q":6.78},{"s":1469,"q":4.85},{"s":1473,"q":3.65},{"s":1477,"q":5.88},{"s":1481,"q":4.41},{"s":1485,"q":3.31},{"s":1489,"q":6.46},{"s":1493,"q":5.09},{"s":1497,"q":4.01},
{"s":1501,"q":3.65},{"s":1505,"q":4.62},{"s":1509,"q":6.17},{"s":1513,"q":4.01},{"s":1517,"q":5.60},{"s":1521,"q":3.47},{"s":1524,"q":4.41},{"s":1528,"q":6.78},{"s":1532,"q":5.09},{"s":1536,"q":3.82},{"s":1540,"q":5.88},{"s":1544,"q":4.85},{"s":1548,"q":4.21},{"s":1552,"q":6.46},{"s":1556,"q":3.31},{"s":1560,"q":5.34},
{"s":1563,"q":5.87},{"s":1567,"q":4.01},{"s":1571,"q":4.62},{"s":1575,"q":5.34},{"s":1579,"q":3.47},{"s":1583,"q":6.78},{"s":1586,"q":4.41},{"s":1590,"q":5.59},{"s":1594,"q":3.82},{"s":1598,"q":6.46},{"s":1602,"q":5.09},{"s":1606,"q":6.16},{"s":1610,"q":3.64},{"s":1614,"q":4.21},{"s":1618,"q":7.11},{"s":1622,"q":4.85},
{"s":1626,"q":3.56},{"s":1630,"q":5.21},{"s":1634,"q":3.91},{"s":1638,"q":6.30},{"s":1642,"q":4.51},{"s":1646,"q":5.74},{"s":1649,"q":3.23},{"s":1653,"q":4.11},{"s":1657,"q":5.47},{"s":1661,"q":4.73},{"s":1665,"q":6.61},{"s":1669,"q":3.73},{"s":1673,"q":4.30},{"s":1677,"q":6.02},{"s":1681,"q":4.97},{"s":1685,"q":3.38},
{"s":1688,"q":5.46},{"s":1692,"q":4.31},{"s":1696,"q":3.55},{"s":1700,"q":6.31},{"s":1704,"q":5.21},{"s":1708,"q":3.92},{"s":1711,"q":6.94},{"s":1715,"q":4.51},{"s":1719,"q":6.02},{"s":1723,"q":3.73},{"s":1727,"q":5.74},{"s":1731,"q":4.74},{"s":1735,"q":3.39},{"s":1739,"q":4.97},{"s":1743,"q":4.11},{"s":1747,"q":6.62},
{"s":1751,"q":4.85},{"s":1755,"q":6.46},{"s":1759,"q":3.82},{"s":1763,"q":5.87},{"s":1767,"q":4.41},{"s":1771,"q":7.11},{"s":1774,"q":5.34},{"s":1778,"q":3.64},{"s":1782,"q":4.21},{"s":1786,"q":5.59},{"s":1790,"q":6.78},{"s":1794,"q":4.62},{"s":1798,"q":3.47},{"s":1802,"q":6.16},{"s":1806,"q":4.01},{"s":1810,"q":5.09},
{"s":1813,"q":5.88},{"s":1817,"q":3.82},{"s":1821,"q":4.85},{"s":1825,"q":3.47},{"s":1829,"q":6.78},{"s":1833,"q":4.41},{"s":1836,"q":5.34},{"s":1840,"q":4.01},{"s":1844,"q":6.17},{"s":1848,"q":4.62},{"s":1852,"q":3.31},{"s":1856,"q":5.09},{"s":1860,"q":6.46},{"s":1864,"q":3.65},{"s":1868,"q":5.60},{"s":1872,"q":4.21},
{"s":1876,"q":4.11},{"s":1880,"q":6.62},{"s":1884,"q":3.73},{"s":1888,"q":4.97},{"s":1892,"q":5.74},{"s":1896,"q":4.31},{"s":1899,"q":6.31},{"s":1903,"q":3.39},{"s":1907,"q":4.74},{"s":1911,"q":5.46},{"s":1915,"q":3.92},{"s":1919,"q":6.94},{"s":1923,"q":5.21},{"s":1927,"q":3.55},{"s":1931,"q":4.51},{"s":1935,"q":6.02},
{"s":1938,"q":3.91},{"s":1942,"q":4.97},{"s":1946,"q":6.30},{"s":1950,"q":3.23},{"s":1954,"q":4.30},{"s":1958,"q":5.74},{"s":1961,"q":3.56},{"s":1965,"q":4.73},{"s":1969,"q":6.61},{"s":1973,"q":4.11},{"s":1977,"q":5.47},{"s":1981,"q":3.38},{"s":1985,"q":5.21},{"s":1989,"q":4.51},{"s":1993,"q":6.02},{"s":1997,"q":3.73},
{"s":3,"q":3.10},{"s":7,"q":7.03},{"s":11,"q":4.31},{"s":15,"q":5.51},{"s":18,"q":2.64},{"s":22,"q":5.97},{"s":26,"q":3.66},{"s":30,"q":8.27},{"s":34,"q":4.67},{"s":38,"q":2.86},{"s":42,"q":6.48},{"s":46,"q":3.97},{"s":49,"q":2.43},{"s":53,"q":7.63},{"s":57,"q":5.07},{"s":61,"q":3.38},
{"s":65,"q":5.82},{"s":69,"q":2.57},{"s":73,"q":8.06},{"s":77,"q":3.87},{"s":80,"q":4.93},{"s":84,"q":6.85},{"s":88,"q":3.28},{"s":92,"q":5.36},{"s":96,"q":8.74},{"s":100,"q":4.19},{"s":104,"q":2.79},{"s":108,"q":6.31},{"s":111,"q":3.57},{"s":115,"q":7.42},{"s":119,"q":4.55},{"s":123,"q":3.02},
{"s":128,"q":4.43},{"s":132,"q":8.50},{"s":136,"q":3.47},{"s":140,"q":2.71},{"s":143,"q":6.66},{"s":147,"q":4.80},{"s":151,"q":7.22},{"s":155,"q":2.94},{"s":159,"q":5.66},{"s":163,"q":3.76},{"s":167,"q":7.84},{"s":171,"q":2.50},{"s":174,"q":5.21},{"s":178,"q":4.08},{"s":182,"q":3.19},{"s":186,"q":6.14},
{"s":190,"q":2.64},{"s":194,"q":5.07},{"s":198,"q":7.03},{"s":202,"q":3.97},{"s":205,"q":3.10},{"s":209,"q":8.27},{"s":213,"q":4.67},{"s":217,"q":5.97},{"s":221,"q":3.66},{"s":225,"q":2.43},{"s":229,"q":6.48},{"s":233,"q":4.31},{"s":236,"q":7.63},{"s":240,"q":3.38},{"s":244,"q":5.51},{"s":248,"q":2.86},
{"s":253,"q":8.06},{"s":257,"q":3.57},{"s":261,"q":4.93},{"s":265,"q":6.31},{"s":268,"q":2.57},{"s":272,"q":4.55},{"s":276,"q":3.02},{"s":280,"q":6.85},{"s":284,"q":4.19},{"s":288,"q":8.74},{"s":292,"q":3.28},{"s":296,"q":5.36},{"s":299,"q":7.42},{"s":303,"q":2.79},{"s":307,"q":3.87},{"s":311,"q":5.82},
{"s":315,"q":4.80},{"s":319,"q":3.19},{"s":323,"q":6.66},{"s":327,"q":2.50},{"s":330,"q":4.08},{"s":334,"q":7.84},{"s":338,"q":5.66},{"s":342,"q":3.47},{"s":346,"q":2.71},{"s":350,"q":5.21},{"s":354,"q":8.50},{"s":358,"q":3.76},{"s":361,"q":6.14},{"s":365,"q":2.94},{"s":369,"q":7.22},{"s":373,"q":4.43},
{"s":378,"q":3.66},{"s":382,"q":5.97},{"s":386,"q":2.86},{"s":390,"q":7.63},{"s":393,"q":5.07},{"s":397,"q":2.43},{"s":401,"q":4.31},{"s":405,"q":7.03},{"s":409,"q":3.38},{"s":413,"q":5.51},{"s":417,"q":3.97},{"s":421,"q":8.27},{"s":424,"q":2.64},{"s":428,"q":4.67},{"s":432,"q":3.10},{"s":436,"q":6.48},
{"s":440,"q":6.85},{"s":444,"q":4.19},{"s":448,"q":2.79},{"s":452,"q":5.36},{"s":455,"q":8.74},{"s":459,"q":3.28},{"s":463,"q":5.82},{"s":467,"q":4.55},{"s":471,"q":2.57},{"s":475,"q":7.42},{"s":479,"q":3.87},{"s":483,"q":6.31},{"s":486,"q":4.93},{"s":490,"q":3.02},{"s":494,"q":8.06},{"s":498,"q":3.57},
{"s":503,"q":3.47},{"s":507,"q":5.21},{"s":511,"q":7.84},{"s":515,"q":2.50},{"s":518,"q":4.08},{"s":522,"q":6.66},{"s":526,"q":2.94},{"s":530,"q":4.80},{"s":534,"q":8.50},{"s":538,"q":3.76},{"s":542,"q":6.14},{"s":546,"q":2.71},{"s":549,"q":5.66},{"s":553,"q":4.43},{"s":557,"q":7.22},{"s":561,"q":3.19},
{"s":565,"q":2.86},{"s":569,"q":4.31},{"s":573,"q":7.03},{"s":577,"q":3.38},{"s":580,"q":5.97},{"s":584,"q":2.64},{"s":588,"q":3.97},{"s":592,"q":8.27},{"s":596,"q":5.07},{"s":600,"q":3.10},{"s":604,"q":6.48},{"s":608,"q":4.67},{"s":611,"q":3.66},{"s":615,"q":7.63},{"s":619,"q":2.43},{"s":623,"q":5.51},
{"s":628,"q":6.31},{"s":632,"q":3.28},{"s":636,"q":4.19},{"s":640,"q":5.36},{"s":643,"q":2.57},{"s":647,"q":8.06},{"s":651,"q":3.87},{"s":655,"q":5.82},{"s":659,"q":3.02},{"s":663,"q":7.42},{"s":667,"q":4.93},{"s":671,"q":6.85},{"s":674,"q":2.79},{"s":678,"q":3.57},{"s":682,"q":8.74},{"s":686,"q":4.55},
{"s":690,"q":2.94},{"s":694,"q":5.66},{"s":698,"q":3.47},{"s":702,"q":7.84},{"s":705,"q":4.43},{"s":709,"q":6.66},{"s":713,"q":2.50},{"s":717,"q":3.76},{"s":721,"q":6.14},{"s":725,"q":4.80},{"s":729,"q":8.50},{"s":733,"q":3.19},{"s":736,"q":4.08},{"s":740,"q":7.22},{"s":744,"q":5.21},{"s":748,"q":2.71},
{"s":753,"q":5.51},{"s":757,"q":3.66},{"s":761,"q":2.64},{"s":765,"q":7.03},{"s":768,"q":5.07},{"s":772,"q":3.10},{"s":776,"q":8.27},{"s":780,"q":3.97},{"s":784,"q":6.48},{"s":788,"q":2.86},{"s":792,"q":5.97},{"s":796,"q":4.31},{"s":799,"q":2.43},{"s":803,"q":4.67},{"s":807,"q":3.38},{"s":811,"q":7.63},
{"s":815,"q":4.55},{"s":819,"q":7.42},{"s":823,"q":3.02},{"s":827,"q":6.31},{"s":830,"q":3.87},{"s":834,"q":8.74},{"s":838,"q":5.36},{"s":842,"q":2.79},{"s":846,"q":3.57},{"s":850,"q":5.82},{"s":854,"q":8.06},{"s":858,"q":4.19},{"s":861,"q":2.57},{"s":865,"q":6.85},{"s":869,"q":3.28},{"s":873,"q":4.93},
{"s":878,"q":6.66},{"s":882,"q":3.19},{"s":886,"q":4.80},{"s":890,"q":2.71},{"s":893,"q":8.50},{"s":897,"q":4.08},{"s":901,"q":5.66},{"s":905,"q":3.47},{"s":909,"q":7.22},{"s":913,"q":4.43},{"s":917,"q":2.50},{"s":921,"q":5.21},{"s":924,"q":7.84},{"s":928,"q":2.94},{"s":932,"q":6.14},{"s":936,"q":3.76},
{"s":940,"q":3.38},{"s":944,"q":7.63},{"s":948,"q":2.86},{"s":952,"q":4.67},{"s":955,"q":5.97},{"s":959,"q":3.66},{"s":963,"q":7.03},{"s":967,"q":2.43},{"s":971,"q":4.31},{"s":975,"q":5.51},{"s":979,"q":3.10},{"s":983,"q":8.27},{"s":986,"q":5.07},{"s":990,"q":2.64},{"s":994,"q":3.97},{"s":998,"q":6.48},
{"s":1003,"q":3.28},{"s":1007,"q":7.42},{"s":1011,"q":4.55},{"s":1015,"q":5.82},{"s":1018,"q":2.79},{"s":1022,"q":6.31},{"s":1026,"q":3.87},{"s":1030,"q":8.74},{"s":1034,"q":4.93},{"s":1038,"q":3.02},{"s":1042,"q":6.85},{"s":1046,"q":4.19},{"s":1049,"q":2.57},{"s":1053,"q":8.06},{"s":1057,"q":5.36},{"s":1061,"q":3.57},
{"s":1065,"q":5.66},{"s":1069,"q":2.50},{"s":1073,"q":7.84},{"s":1077,"q":3.76},{"s":1080,"q":4.80},{"s":1084,"q":6.66},{"s":1088,"q":3.19},{"s":1092,"q":5.21},{"s":1096,"q":8.50},{"s":1100,"q":4.08},{"s":1104,"q":2.71},{"s":1108,"q":6.14},{"s":1111,"q":3.47},{"s":1115,"q":7.22},{"s":1119,"q":4.43},{"s":1123,"q":2.94},
{"s":1128,"q":4.31},{"s":1132,"q":8.27},{"s":1136,"q":3.38},{"s":1140,"q":2.64},{"s":1143,"q":6.48},{"s":1147,"q":4.67},{"s":1151,"q":7.03},{"s":1155,"q":2.86},{"s":1159,"q":5.51},{"s":1163,"q":3.66},{"s":1167,"q":7.63},{"s":1171,"q":2.43},{"s":1174,"q":5.07},{"s":1178,"q":3.97},{"s":1182,"q":3.10},{"s":1186,"q":5.97},
{"s":1190,"q":2.79},{"s":1194,"q":5.36},{"s":1198,"q":7.42},{"s":1202,"q":4.19},{"s":1205,"q":3.28},{"s":1209,"q":8.74},{"s":1213,"q":4.93},{"s":1217,"q":6.31},{"s":1221,"q":3.87},{"s":1225,"q":2.57},{"s":1229,"q":6.85},{"s":1233,"q":4.55},{"s":1236,"q":8.06},{"s":1240,"q":3.57},{"s":1244,"q":5.82},{"s":1248,"q":3.02},
{"s":1253,"q":7.84},{"s":1257,"q":3.47},{"s":1261,"q":4.80},{"s":1265,"q":6.14},{"s":1268,"q":2.50},{"s":1272,"q":4.43},{"s":1276,"q":2.94},{"s":1280,"q":6.66},{"s":1284,"q":4.08},{"s":1288,"q":8.50},{"s":1292,"q":3.19},{"s":1296,"q":5.21},{"s":1299,"q":7.22},{"s":1303,"q":2.71},{"s":1307,"q":3.76},{"s":1311,"q":5.66},
{"s":1315,"q":4.67},{"s":1319,"q":3.10},{"s":1323,"q":6.48},{"s":1327,"q":2.43},{"s":1330,"q":3.97},{"s":1334,"q":7.63},{"s":1338,"q":5.51},{"s":1342,"q":3.38},{"s":1346,"q":2.64},{"s":1350,"q":5.07},{"s":1354,"q":8.27},{"s":1358,"q":3.66},{"s":1361,"q":5.97},{"s":1365,"q":2.86},{"s":1369,"q":7.03},{"s":1373,"q":4.31},
{"s":1378,"q":3.87},{"s":1382,"q":6.31},{"s":1386,"q":3.02},{"s":1390,"q":8.06},{"s":1393,"q":5.36},{"s":1397,"q":2.57},{"s":1401,"q":4.55},{"s":1405,"q":7.42},{"s":1409,"q":3.57},{"s":1413,"q":5.82},{"s":1417,"q":4.19},{"s":1421,"q":8.74},{"s":1424,"q":2.79},{"s":1428,"q":4.93},{"s":1432,"q":3.28},{"s":1436,"q":6.85},
{"s":1440,"q":6.66},{"s":1444,"q":4.08},{"s":1448,"q":2.71},{"s":1452,"q":5.21},{"s":1455,"q":8.50},{"s":1459,"q":3.19},{"s":1463,"q":5.66},{"s":1467,"q":4.43},{"s":1471,"q":2.50},{"s":1475,"q":7.22},{"s":1479,"q":3.76},{"s":1483,"q":6.14},{"s":1486,"q":4.80},{"s":1490,"q":2.94},{"s":1494,"q":7.84},{"s":1498,"q":3.47},
{"s":1503,"q":3.38},{"s":1507,"q":5.07},{"s":1511,"q":7.63},{"s":1515,"q":2.43},{"s":1518,"q":3.97},{"s":1522,"q":6.48},{"s":1526,"q":2.86},{"s":1530,"q":4.67},{"s":1534,"q":8.27},{"s":1538,"q":3.66},{"s":1542,"q":5.97},{"s":1546,"q":2.64},{"s":1549,"q":5.51},{"s":1553,"q":4.31},{"s":1557,"q":7.03},{"s":1561,"q":3.10},
{"s":1565,"q":3.02},{"s":1569,"q":4.55},{"s":1573,"q":7.42},{"s":1577,"q":3.57},{"s":1580,"q":6.31},{"s":1584,"q":2.79},{"s":1588,"q":4.19},{"s":1592,"q":8.74},{"s":1596,"q":5.36},{"s":1600,"q":3.28},{"s":1604,"q":6.85},{"s":1608,"q":4.93},{"s":1611,"q":3.87},{"s":1615,"q":8.06},{"s":1619,"q":2.57},{"s":1623,"q":5.82},
{"s":1628,"q":6.14},{"s":1632,"q":3.19},{"s":1636,"q":4.08},{"s":1640,"q":5.21},{"s":1643,"q":2.50},{"s":1647,"q":7.84},{"s":1651,"q":3.76},{"s":1655,"q":5.66},{"s":1659,"q":2.94},{"s":1663,"q":7.22},{"s":1667,"q":4.80},{"s":1671,"q":6.66},{"s":1674,"q":2.71},{"s":1678,"q":3.47},{"s":1682,"q":8.50},{"s":1686,"q":4.43},
{"s":1690,"q":2.86},{"s":1694,"q":5.51},{"s":1698,"q":3.38},{"s":1702,"q":7.63},{"s":1705,"q":4.31},{"s":1709,"q":6.48},{"s":1713,"q":2.43},{"s":1717,"q":3.66},{"s":1721,"q":5.97},{"s":1725,"q":4.67},{"s":1729,"q":8.27},{"s":1733,"q":3.10},{"s":1736,"q":3.97},{"s":1740,"q":7.03},{"s":1744,"q":5.07},{"s":1748,"q":2.64},
{"s":1753,"q":5.82},{"s":1757,"q":3.87},{"s":1761,"q":2.79},{"s":1765,"q":7.42},{"s":1768,"q":5.36},{"s":1772,"q":3.28},{"s":1776,"q":8.74},{"s":1780,"q":4.19},{"s":1784,"q":6.85},{"s":1788,"q":3.02},{"s":1792,"q":6.31},{"s":1796,"q":4.55},{"s":1799,"q":2.57},{"s":1803,"q":4.93},{"s":1807,"q":3.57},{"s":1811,"q":8.06},
{"s":1815,"q":4.43},{"s":1819,"q":7.22},{"s":1823,"q":2.94},{"s":1827,"q":6.14},{"s":1830,"q":3.76},{"s":1834,"q":8.50},{"s":1838,"q":5.21},{"s":1842,"q":2.71},{"s":1846,"q":3.47},{"s":1850,"q":5.66},{"s":1854,"q":7.84},{"s":1858,"q":4.08},{"s":1861,"q":2.50},{"s":1865,"q":6.66},{"s":1869,"q":3.19},{"s":1873,"q":4.80},
{"s":1878,"q":6.48},{"s":1882,"q":3.10},{"s":1886,"q":4.67},{"s":1890,"q":2.64},{"s":1893,"q":8.27},{"s":1897,"q":3.97},{"s":1901,"q":5.51},{"s":1905,"q":3.38},{"s":1909,"q":7.03},{"s":1913,"q":4.31},{"s":1917,"q":2.43},{"s":1921,"q":5.07},{"s":1924,"q":7.63},{"s":1928,"q":2.86},{"s":1932,"q":5.97},{"s":1936,"q":3.66},
{"s":1940,"q":3.57},{"s":1944,"q":8.06},{"s":1948,"q":3.02},{"s":1952,"q":4.93},{"s":1955,"q":6.31},{"s":1959,"q":3.87},{"s":1963,"q":7.42},{"s":1967,"q":2.57},{"s":1971,"q":4.55},{"s":1975,"q":5.82},{"s":1979,"q":3.28},{"s":1983,"q":8.74},{"s":1986,"q":5.36},{"s":1990,"q":2.79},{"s":1994,"q":4.19},{"s":1998,"q":6.85},
{"s":68,"q":13.6},{"s":166,"q":13.0},{"s":174,"q":11.7},{"s":167,"q":10.2},{"s":196,"q":10.1},{"s":25,"q":10.4},{"s":46,"q":10.5},{"s":61,"q":10.2},{"s":93,"q":9.4},{"s":36,"q":8.6},{"s":83,"q":8.1},{"s":366,"q":9.3},{"s":405,"q":9.2},{"s":424,"q":10.3},{"s":436,"q":9.3},{"s":533,"q":10.0},{"s":555,"q":10.5},{"s":526,"q":9.7},{"s":649,"q":10.5},{"s":697,"q":9.8},{"s":703,"q":9.0},{"s":780,"q":11.3},{"s":783,"q":9.9},{"s":831,"q":12.3},{"s":850,"q":10.2},{"s":853,"q":9.2},{"s":885,"q":15.6},{"s":886,"q":14.4},{"s":917,"q":13.1},{"s":976,"q":11.1},{"s":965,"q":10.0},{"s":998,"q":12.8},{"s":1010,"q":12.5},{"s":1044,"q":10.9},{"s":1092,"q":10.6},{"s":1056,"q":9.9},{"s":1190,"q":9.7},{"s":1227,"q":11.0},{"s":1291,"q":12.6},{"s":1307,"q":10.1},{"s":1349,"q":11.4},{"s":1377,"q":12.8},{"s":1346,"q":10.3},{"s":1470,"q":10.3},{"s":1463,"q":9.7},{"s":1554,"q":10.6},{"s":1561,"q":13.1},{"s":1598,"q":12.1},{"s":1640,"q":10.6},{"s":1673,"q":10.8},{"s":1695,"q":12.0},{"s":1740,"q":10.9},{"s":1804,"q":10.9},{"s":1797,"q":10.5},{"s":1877,"q":10.8},{"s":1923,"q":12.8},{"s":1951,"q":10.5},{"s":1981,"q":11.4},{"s":1998,"q":8.0},{"s":1993,"q":7.2},
{"s":120,"q":9.1},{"s":215,"q":9.2},{"s":260,"q":9.5},{"s":300,"q":9.0},{"s":480,"q":9.3},{"s":610,"q":9.6},{"s":740,"q":9.1},{"s":900,"q":9.4},{"s":1120,"q":9.2},{"s":1150,"q":9.6},{"s":1260,"q":9.0},{"s":1400,"q":9.3},{"s":1430,"q":9.8},{"s":1500,"q":9.1},{"s":1620,"q":9.5},{"s":1700,"q":9.2},{"s":1760,"q":9.6},{"s":1850,"q":9.1},{"s":1900,"q":9.4},{"s":1960,"q":9.0},{"s":40,"q":9.6},{"s":560,"q":9.2},{"s":700,"q":9.5},{"s":820,"q":9.0},{"s":1000,"q":9.6},{"s":1330,"q":9.4},{"s":1580,"q":9.7},{"s":1660,"q":9.9},{"s":1820,"q":9.7},{"s":1990,"q":9.5},
{"s":3,"q":2.07},{"s":12,"q":1.85},{"s":4,"q":0.58},{"s":5,"q":0.378},{"s":155,"q":1.32},{"s":156,"q":0.825},{"s":238,"q":1.06},{"s":257,"q":1.46},{"s":376,"q":1.35},{"s":453,"q":0.97},{"s":635,"q":1.05},{"s":744,"q":1.24},{"s":1079,"q":1.45},{"s":1328,"q":1.03},{"s":1370,"q":1.2},{"s":1470,"q":1.37},{"s":1704,"q":1.26},{"s":1506,"q":1.55},{"s":1521,"q":1.58},{"s":1887,"q":1.55},{"s":1957,"q":1.92},{"s":115,"q":1.63},{"s":105,"q":1.91},{"s":97,"q":1.99},{"s":206,"q":1.62},{"s":196,"q":1.77},{"s":221,"q":2.06},{"s":260,"q":1.98},{"s":504,"q":1.47},{"s":501,"q":1.55},{"s":385,"q":1.59},{"s":427,"q":1.75},{"s":490,"q":1.77},{"s":548,"q":1.75},{"s":606,"q":1.65},{"s":675,"q":1.7},{"s":636,"q":1.79},{"s":765,"q":1.66},{"s":848,"q":1.81},{"s":1150,"q":1.72},{"s":1217,"q":1.94},{"s":1288,"q":1.96},{"s":1383,"q":1.96},{"s":1444,"q":1.83},{"s":1473,"q":1.94},{"s":1557,"q":1.81},{"s":1554,"q":1.66},{"s":1698,"q":1.73},{"s":1739,"q":1.67},{"s":1776,"q":1.81},{"s":1862,"q":1.88},{"s":1888,"q":1.71},{"s":1877,"q":1.81},{"s":337,"q":1.81},{"s":344,"q":1.91},{"s":417,"q":2.08},{"s":549,"q":2.22},{"s":617,"q":2.07},{"s":712,"q":1.97},{"s":838,"q":1.96},{"s":940,"q":1.96},{"s":1056,"q":2.19},{"s":1201,"q":2.07},{"s":1259,"q":2.02},{"s":1477,"q":2.11},{"s":1608,"q":2.1},{"s":1768,"q":2.41},{"s":1819,"q":2.32},{"s":1913,"q":2.1},{"s":1958,"q":2.32},{"s":1997,"q":2.19},{"s":61,"q":2.32},{"s":76,"q":2.13},{"s":134,"q":2.38},{"s":199,"q":2.22},{"s":301,"q":2.25},{"s":373,"q":2.38},{"s":491,"q":2.32},{"s":584,"q":2.22},{"s":664,"q":2.32},{"s":795,"q":2.25},{"s":925,"q":2.25},{"s":1005,"q":2.19},{"s":1107,"q":2.32},{"s":1187,"q":2.25},{"s":1405,"q":2.25},{"s":1535,"q":2.32},{"s":1688,"q":2.38},{"s":1884,"q":2.25}
]},
"hconcat":[
{"width":966,"height":720,
"layer":[
{"data":{"name":"bars"},"mark":{"type":"bar","size":13.6,"color":"black"},
"encoding":{
"x":{"field":"n","type":"quantitative","scale":{"domain":[-2.99,53.99],"nice":false,"zero":false},"axis":{"values":[0,20,40],"title":"Number of components","labelPadding":31,"titlePadding":38}},
"y":{"field":"w","type":"quantitative","scale":{"domain":[0,1.05],"nice":false},"axis":{"values":[0,0.25,0.5,0.75,1],"format":".2f","title":"Data variance","labelPadding":38,"titlePadding":58}}}},
{"data":{"name":"cum"},"mark":{"type":"line","color":"black","strokeWidth":15,"strokeCap":"square","strokeJoin":"round"},
"encoding":{"x":{"field":"n","type":"quantitative"},"y":{"field":"v","type":"quantitative"}}}
]},
{"width":966,"height":720,
"layer":[
{"data":{"name":"qs"},"mark":{"type":"circle","size":225,"color":"black","opacity":1},
"encoding":{
"x":{"field":"s","type":"quantitative","scale":{"domain":[-99.95,2098.95],"nice":false,"zero":false},"axis":{"values":[0,1000,2000],"format":"d","title":"Sample","labelPadding":31,"titlePadding":38}},
"y":{"field":"q","type":"quantitative","scale":{"type":"log","domain":[0.3142,18.67],"nice":false},"axis":{"values":[1,10],"labelExpr":"datum.value > 5 ? '10¹' : '10⁰'","title":"Q","labelPadding":48,"titlePadding":42,"orient":"left"}}}},
{"data":{"name":"qs"},"mark":{"type":"circle","size":225,"opacity":0},
"encoding":{
"x":{"field":"s","type":"quantitative"},
"y":{"field":"q","type":"quantitative","axis":{"values":[0.4,0.5,0.6,0.7,0.8,0.9,2,3,4,5,6,7,8,9],"labels":false,"title":null,"tickSize":20,"tickWidth":6.5,"orient":"left"}}}}
],
"resolve":{"axis":{"y":"independent"}}}
]
}
